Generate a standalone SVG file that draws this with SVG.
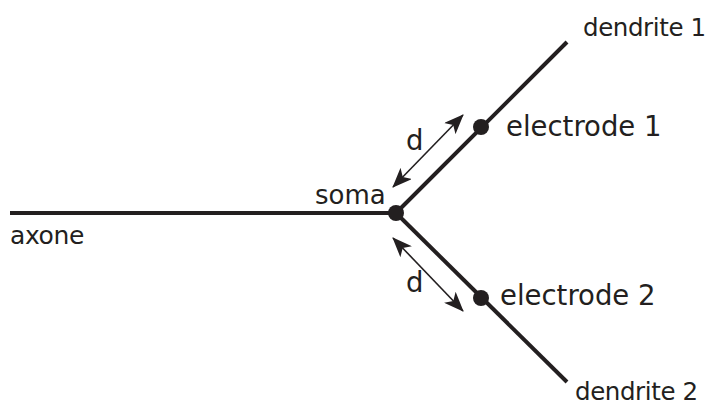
<svg xmlns="http://www.w3.org/2000/svg" width="707" height="408" viewBox="0 0 707 408">
<defs>
<marker id="ah" viewBox="0 0 20 16" refX="19" refY="8" markerWidth="20" markerHeight="16" markerUnits="userSpaceOnUse" orient="auto-start-reverse">
<path d="M0,0 L20,8 L0,16 L5,8 Z" fill="#231f20"/>
</marker>
</defs>
<style>
.neu{stroke:#231f20;stroke-width:4;fill:none;stroke-linecap:butt}
.arr{stroke:#231f20;stroke-width:1.6;fill:none}
.dot{fill:#231f20}
.lbl{font-family:"DejaVu Sans",sans-serif;fill:#231f20;font-size:27.5px}
.sm{font-family:"DejaVu Sans",sans-serif;fill:#231f20;font-size:24.5px;letter-spacing:-0.4px}
</style>
<g id="connectors">
<line class="neu" x1="10" y1="213" x2="396" y2="213"/>
<line class="neu" x1="396" y1="213" x2="567" y2="42"/>
<line class="neu" x1="396" y1="213" x2="567" y2="382"/>
<line class="arr" x1="393" y1="187" x2="463" y2="115" marker-start="url(#ah)" marker-end="url(#ah)"/>
<line class="arr" x1="393" y1="238" x2="463" y2="311" marker-start="url(#ah)" marker-end="url(#ah)"/>
</g>
<g id="soma">
<circle class="dot" cx="396" cy="213" r="8"/>
<text class="lbl" x="315" y="204" style="font-size:26px">soma</text>
</g>
<g id="axone">
<text class="sm" x="10" y="244" style="font-size:25px">axone</text>
</g>
<g id="electrode1">
<circle class="dot" cx="481" cy="127" r="8"/>
<text class="lbl" x="506" y="136">electrode 1</text>
</g>
<g id="electrode2">
<circle class="dot" cx="481" cy="298" r="8"/>
<text class="lbl" x="500" y="305">electrode 2</text>
</g>
<g id="dendrite1">
<text class="sm" x="583" y="36">dendrite 1</text>
</g>
<g id="dendrite2">
<text class="sm" x="575" y="400">dendrite 2</text>
</g>
<g id="d1"><text class="lbl" x="406" y="150">d</text></g>
<g id="d2"><text class="lbl" x="406" y="292">d</text></g>
</svg>
